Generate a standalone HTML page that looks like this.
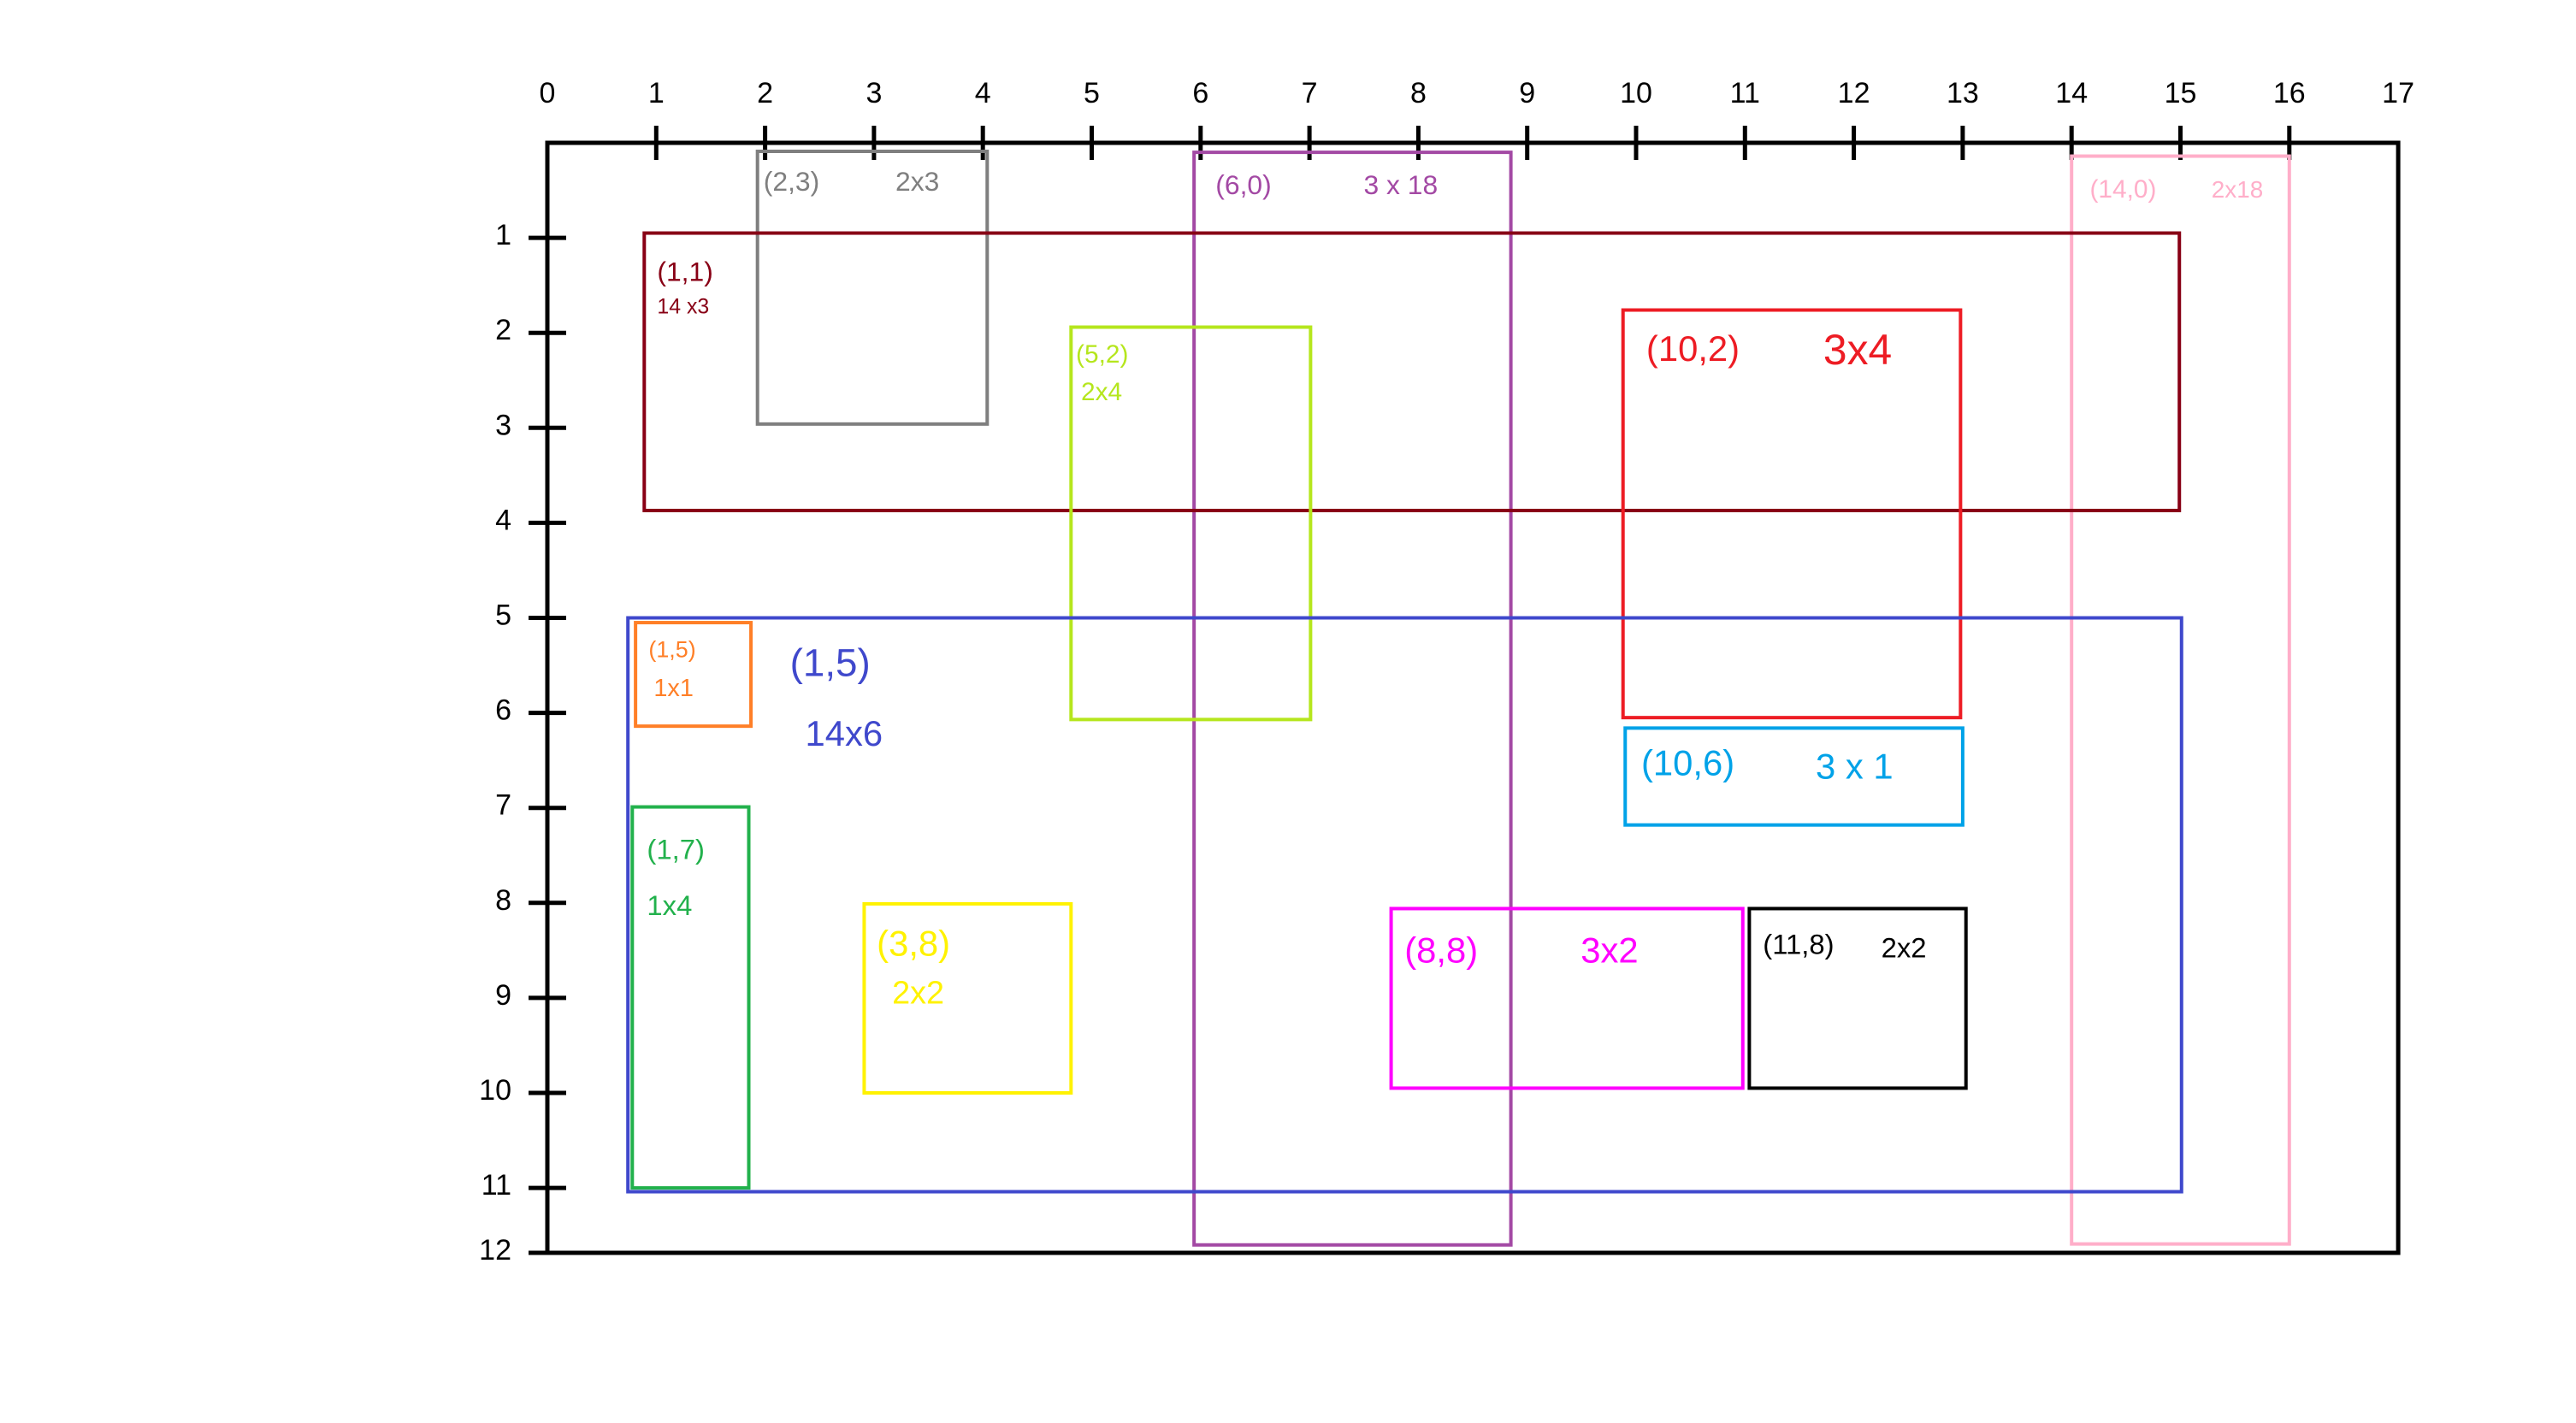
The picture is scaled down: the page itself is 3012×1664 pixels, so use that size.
<!DOCTYPE html>
<html><head><meta charset="utf-8"><style>
html,body{margin:0;padding:0;background:#fff;}
svg{display:block;}
text{font-family:"Liberation Sans",sans-serif;}
</style></head><body>
<svg id="chart" width="3012" height="1664" viewBox="0 0 3012 1664" xmlns="http://www.w3.org/2000/svg">
<rect x="0" y="0" width="3012" height="1664" fill="#fff"/>
<g id="frame"></g>
<g id="rects"></g>
<g id="labels" transform="scale(0.9953)">
<text x="897" y="224" font-size="32" fill="#7f7f7f">(2,3)</text>
<text x="1052" y="224" font-size="32" fill="#7f7f7f">2x3</text>
<text x="1428" y="228" font-size="32" fill="#a349a4">(6,0)</text>
<text x="1602" y="228" font-size="32" fill="#a349a4">3 x 18</text>
<text x="2455" y="232" font-size="30" fill="#ffaec9">(14,0)</text>
<text x="2598" y="232" font-size="28" fill="#ffaec9">2x18</text>
<text x="772" y="330" font-size="32" fill="#880015">(1,1)</text>
<text x="772" y="368" font-size="25" fill="#880015">14 x3</text>
<text x="1264" y="426" font-size="30" fill="#b5e61d">(5,2)</text>
<text x="1270" y="470" font-size="30" fill="#b5e61d">2x4</text>
<text x="1934" y="424" font-size="42" fill="#ed1c24">(10,2)</text>
<text x="2142" y="428" font-size="50" fill="#ed1c24">3x4</text>
<text x="762" y="772" font-size="27" fill="#ff7f27">(1,5)</text>
<text x="768" y="818" font-size="29" fill="#ff7f27">1x1</text>
<text x="928" y="794" font-size="46" fill="#3f48cc">(1,5)</text>
<text x="946" y="876" font-size="42" fill="#3f48cc">14x6</text>
<text x="1928" y="911" font-size="42" fill="#00a2e8">(10,6)</text>
<text x="2133" y="915" font-size="42" fill="#00a2e8">3 x 1</text>
<text x="760" y="1009" font-size="33" fill="#22b14c">(1,7)</text>
<text x="760" y="1075" font-size="33" fill="#22b14c">1x4</text>
<text x="1030" y="1123" font-size="42" fill="#fff200">(3,8)</text>
<text x="1048" y="1179" font-size="38" fill="#fff200">2x2</text>
<text x="1650" y="1131" font-size="42" fill="#ff00ff">(8,8)</text>
<text x="1857" y="1131" font-size="42" fill="#ff00ff">3x2</text>
<text x="2071" y="1121" font-size="33" fill="#000">(11,8)</text>
<text x="2210" y="1125" font-size="33" fill="#000">2x2</text>
</g>
</svg>
<script>
const xTickLabels = ["0","1","2","3","4","5","6","7","8","9","10","11","12","13","14","15","16","17"];
const yTickLabels = ["1","2","3","4","5","6","7","8","9","10","11","12"];
const rectNames = ["gray","purple","pink","darkred","lime","red","blue","orange","cyan","green","yellow","magenta","black"];
const rectX = [1.93, 5.94, 14.0, 0.89, 4.81, 9.88, 0.74, 0.81, 9.9, 0.78, 2.91, 7.75, 11.04];
const rectY = [0.09, 0.1, 0.14, 0.95, 1.94, 1.76, 5.0, 5.05, 6.16, 6.99, 8.01, 8.06, 8.06];
const rectW = [2.11, 2.91, 2.0, 14.1, 2.2, 3.1, 14.27, 1.06, 3.1, 1.07, 1.9, 3.23, 1.99];
const rectH = [2.87, 11.5, 11.45, 2.92, 4.13, 4.29, 6.04, 1.09, 1.02, 4.01, 1.99, 1.89, 1.89];
const rectColors = ["#7f7f7f","#a349a4","#ffaec9","#880015","#b5e61d","#ed1c24","#3f48cc","#ff7f27","#00a2e8","#22b14c","#fff200","#ff00ff","#000000"];

const NS = "http://www.w3.org/2000/svg";
const X0 = 640, XU = 127.3, Y0 = 167, YU = 111.1;
const X = v => X0 + XU * v;
const Y = v => Y0 + YU * v;
function mk(tag, attrs, parent){
  const e = document.createElementNS(NS, tag);
  for (const k in attrs) e.setAttribute(k, attrs[k]);
  parent.appendChild(e);
  return e;
}
const frame = document.getElementById('frame');
const fr = mk('rect', {x:X(0), y:Y(0), width:X(17)-X(0), height:1465-Y(0), fill:'none', stroke:'#000', 'stroke-width':5}, frame);



xTickLabels.forEach((lab, i) => {
  const v = +lab;
  if (v > 0 && v < 17) {
    const t = mk('line', {x1:X(v), x2:X(v), y1:Y(0)-20, y2:Y(0)+20, stroke:'#000', 'stroke-width':5}, frame);
    
    
  }
  const tx = mk('text', {x:X(v), y:120, 'font-size':34, 'text-anchor':'middle', fill:'#000'}, frame);
  tx.textContent = lab;
  
  
});
yTickLabels.forEach((lab, i) => {
  const v = +lab;
  const yy = v === 12 ? 1465 : Y(v);
  const t = mk('line', {x1:X(0)-22, x2:X(0)+22, y1:yy, y2:yy, stroke:'#000', 'stroke-width':5}, frame);
  
  
  const tx = mk('text', {x:598, y:yy+8, 'font-size':34, 'text-anchor':'end', fill:'#000'}, frame);
  tx.textContent = lab;
  
  
});

const rg = document.getElementById('rects');
rectNames.forEach((n, i) => {
  const r = mk('rect', {x:X(rectX[i]), y:Y(rectY[i]), width:XU*rectW[i], height:YU*rectH[i], fill:'none', stroke:rectColors[i], 'stroke-width':4}, rg);
  
  
});
</script>
</body></html>
